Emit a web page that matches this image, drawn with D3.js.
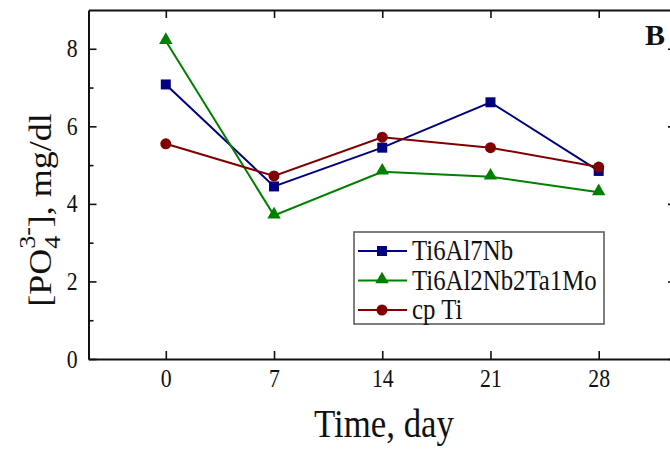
<!DOCTYPE html>
<html>
<head>
<meta charset="utf-8">
<script src="https://cdn.jsdelivr.net/npm/d3@7"></script>
<style>
  body { margin: 0; background: #fff; }
  svg { display: block; }
  text { font-family: "Liberation Serif", "Times New Roman", serif; fill: #111; }
</style>
</head>
<body>
<svg id="chart" width="670" height="450"></svg>
<script>
const days = [0, 7, 14, 21, 28];
const ti6al7nb = [7.08, 4.45, 5.45, 6.62, 4.85];
const ti6al2nb2ta1mo = [8.2, 3.7, 4.83, 4.7, 4.3];
const cpTi = [5.55, 4.72, 5.72, 5.45, 4.95];
const seriesNames = ["Ti6Al7Nb", "Ti6Al2Nb2Ta1Mo", "cp Ti"];
const xTicks = [0, 7, 14, 21, 28];
const yTicks = [0, 2, 4, 6, 8];
const yMinorTicks = [1, 3, 5, 7];

(function () {
const svg = d3.select("#chart");
const mL = 88.5, mR = 676, mT = 10, mB = 359;
const sq = 0.87; // horizontal squeeze of the reference lettering
const x = d3.scaleLinear().domain([-5, 33]).range([mL, mR]);
const y = d3.scaleLinear().domain([0, 9]).range([mB, mT]);

const colors = ["#000080", "#008000", "#800000"];
const symbols = [d3.symbolSquare, d3.symbolTriangle, d3.symbolCircle];
const symSizes = [100, 78, 95];
const data = [ti6al7nb, ti6al2nb2ta1mo, cpTi];

const axisColor = "#111";
const gB = svg.append("g").attr("transform", `translate(0,${mB})`)
  .call(d3.axisBottom(x).tickValues(xTicks).tickSizeInner(-8).tickSizeOuter(0).tickPadding(10));
const gT = svg.append("g").attr("transform", `translate(0,${mT})`)
  .call(d3.axisTop(x).tickValues(xTicks).tickSizeInner(-8).tickSizeOuter(0).tickFormat(""));
const gL = svg.append("g").attr("transform", `translate(${mL},0)`)
  .call(d3.axisLeft(y).tickValues(yTicks).tickSizeInner(-8).tickSizeOuter(0).tickPadding(11));
const gLm = svg.append("g").attr("transform", `translate(${mL},0)`)
  .call(d3.axisLeft(y).tickValues(yMinorTicks).tickSizeInner(-5).tickSizeOuter(0).tickFormat(""));
const gR = svg.append("g").attr("transform", `translate(${mR},0)`)
  .call(d3.axisRight(y).tickValues(yTicks).tickSizeInner(-8).tickSizeOuter(0).tickFormat(""));

[gB, gT, gL, gLm, gR].forEach(g => {
  g.attr("font-family", null);
  g.select(".domain").attr("stroke", axisColor).attr("stroke-width", 2);
  g.selectAll(".tick line").attr("stroke", axisColor).attr("stroke-width", 1.6);
  g.selectAll(".tick text").style("font-family", '"Liberation Serif", serif').style("font-size", "25px")
    .attr("fill", "#111").attr("transform", `scale(${sq},1)`);
});
gLm.select(".domain").remove();
gL.selectAll(".tick text").attr("x", -11 / sq);

const line = d3.line().x((d, i) => x(days[i])).y(d => y(d));
data.forEach((vals, k) => {
  svg.append("path").datum(vals).attr("d", line)
    .attr("fill", "none").attr("stroke", colors[k]).attr("stroke-width", 2);
});
data.forEach((vals, k) => {
  svg.selectAll(null).data(vals).enter().append("path")
    .attr("d", d3.symbol().type(symbols[k]).size(symSizes[k]))
    .attr("transform", (d, i) => `translate(${x(days[i])},${y(d) + (k === 1 ? -1 : 0)})`)
    .attr("fill", colors[k]);
});

const lg = svg.append("g");
lg.append("rect").attr("x", 354).attr("y", 232).attr("width", 250).attr("height", 92)
  .attr("fill", "#fff").attr("stroke", "#555").attr("stroke-width", 1.5);
seriesNames.forEach((name, k) => {
  const cy = 251 + k * 29.5;
  lg.append("line").attr("x1", 358).attr("x2", 407).attr("y1", cy).attr("y2", cy)
    .attr("stroke", colors[k]).attr("stroke-width", 2);
  lg.append("path").attr("d", d3.symbol().type(symbols[k]).size(symSizes[k]))
    .attr("transform", `translate(382,${cy + (k === 1 ? -1 : 0)})`).attr("fill", colors[k]);
  lg.append("text").attr("transform", `translate(412,${cy + 9}) scale(${sq},1)`)
    .style("font-size", "28.5px").text(name);
});

svg.append("text").attr("transform", `translate(384,437) scale(${sq},1)`)
  .attr("text-anchor", "middle").style("font-size", "40px").text("Time, day");

const yt = svg.append("text").attr("transform", `translate(51,210) rotate(-90) scale(1,${sq})`)
  .attr("text-anchor", "middle").style("font-size", "36px");
yt.append("tspan").text("[PO");
yt.append("tspan").attr("dy", 10).style("font-size", "26px").text("4");
yt.append("tspan").attr("dy", -28).attr("dx", -13).style("font-size", "26px").text("3-");
yt.append("tspan").attr("dy", 18).text("], mg/dl");

svg.append("text").attr("x", 645).attr("y", 45).style("font-size", "30px").style("font-weight", "bold").text("B");
})();
</script>
</body>
</html>
